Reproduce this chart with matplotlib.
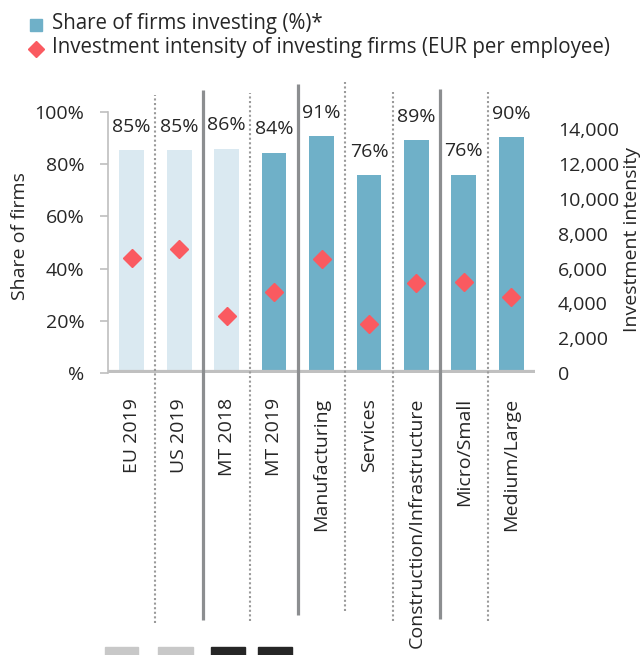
import matplotlib
matplotlib.use("Agg")
import matplotlib.pyplot as plt
from matplotlib.lines import Line2D
from matplotlib.patches import Rectangle
from matplotlib.ticker import FuncFormatter

plt.rcParams['font.family'] = ['Open Sans', 'DejaVu Sans']
plt.rcParams['font.size'] = 14

# data
categories = ['EU 2019', 'US 2019', 'MT 2018', 'MT 2019', 'Manufacturing',
              'Services', 'Construction/Infrastructure', 'Micro/Small', 'Medium/Large']
share_investing = [85.4, 85.3, 86.0, 84.4, 90.8, 75.8, 89.1, 75.9, 90.4]
intensity = [6600, 7100, 3300, 4650, 6580, 2800, 5150, 5250, 4350]
is_benchmark = [True, True, True, False, False, False, False, False, False]

# separators between groups: 'solid' or 'dot', with top/bottom (in % units)
sep_kind = ['dot', 'solid', 'dot', 'solid', 'dot', 'dot', 'solid', 'dot']
sep_top = [106.5, 108.4, 107.3, 110.7, 111.5, 107.7, 108.8, 107.7]
sep_bottom = [-95.8, -94.6, -95.0, -92.7, -91.2, -95.0, -94.3, -95.0]

light = '#dae9f1'
dark = '#6fb0c8'
red = '#fa5a60'
txt = '#262626'

W, H = 642, 655
fig = plt.figure(figsize=(W / 100, H / 100), dpi=100)
ax = fig.add_axes([108 / W, 1 - 373 / H, 427 / W, 261 / H])

x = list(range(len(categories)))
colors = [light if b else dark for b in is_benchmark]
ax.bar(x, share_investing, width=0.52, color=colors, zorder=2)
for xi, v in zip(x, share_investing):
    ax.text(xi, v + 9, f"{v:.0f}%", ha='center', va='center', color=txt,
            fontsize=14, clip_on=False)

ax.set_xlim(-0.5, len(categories) - 0.5)
ax.set_ylim(0, 100)
ax.set_yticks([0, 20, 40, 60, 80, 100])
ax.set_yticklabels(['%', '20%', '40%', '60%', '80%', '100%'], color=txt)
ax.set_xticks(x)
ax.set_xticklabels(categories, rotation=90, color=txt)
ax.tick_params(axis='x', length=0, pad=18)
ax.tick_params(axis='y', length=6, width=1.2, color='#bfbfbf', pad=11)
for s in ['top', 'right', 'bottom']:
    ax.spines[s].set_visible(False)
ax.spines['left'].set_color('#bfbfbf')
ax.spines['left'].set_linewidth(1.2)

# thick grey baseline
ax.axhline(0, color='#c0c0c0', lw=5.2, zorder=3)

for i, kind in enumerate(sep_kind):
    xs = i + 0.5
    if kind == 'solid':
        ax.plot([xs, xs], [sep_bottom[i], sep_top[i]], color='#8c8e90', lw=2.3,
                clip_on=False, zorder=4, solid_capstyle='butt')
    else:
        ax.plot([xs, xs], [sep_bottom[i], sep_top[i]], color='#9a9a9a', lw=1.5,
                ls=(0, (1, 1.2)), clip_on=False, zorder=4)

ax2 = ax.twinx()
ax2.set_ylim(0, 15000)
ax2.set_yticks(range(0, 14001, 2000))
ax2.yaxis.set_major_formatter(FuncFormatter(lambda v, p: f"{int(v):,}"))
ax2.tick_params(axis='y', length=0, pad=16.5, labelcolor=txt)
for s in ax2.spines.values():
    s.set_visible(False)
ax2.plot(x, intensity, ls='none', marker='D', ms=9, color=red, zorder=5)

fig.text(20 / W, 1 - 236 / H, 'Share of firms', rotation=90, ha='center',
         va='center', color=txt, fontsize=14)
fig.text(632 / W, 1 - 240 / H, 'Investment intensity', rotation=90, ha='center',
         va='center', color=txt, fontsize=14)

# legend
fig.add_artist(Line2D([36 / W], [1 - 25 / H], marker='s', ms=9, color=dark,
                      ls='none', transform=fig.transFigure))
fig.text(52 / W, 1 - 24 / H, 'Share of firms investing (%)*', ha='left',
         va='center', color=txt, fontsize=14.8)
fig.add_artist(Line2D([36 / W], [1 - 49 / H], marker='D', ms=8, color=red,
                      ls='none', transform=fig.transFigure))
fig.text(52 / W, 1 - 48 / H, 'Investment intensity of investing firms (EUR per employee)',
         ha='left', va='center', color=txt, fontsize=14.8)

# cut-off boxes at the bottom edge
for x0, x1, c in [(105, 138, '#c8c8c8'), (158, 193, '#c8c8c8'),
                  (211, 245, '#262626'), (258, 292, '#262626')]:
    fig.add_artist(Rectangle((x0 / W, 0), (x1 - x0) / W, 8 / H,
                             color=c, transform=fig.transFigure))

fig.savefig('out.png', dpi=100)
